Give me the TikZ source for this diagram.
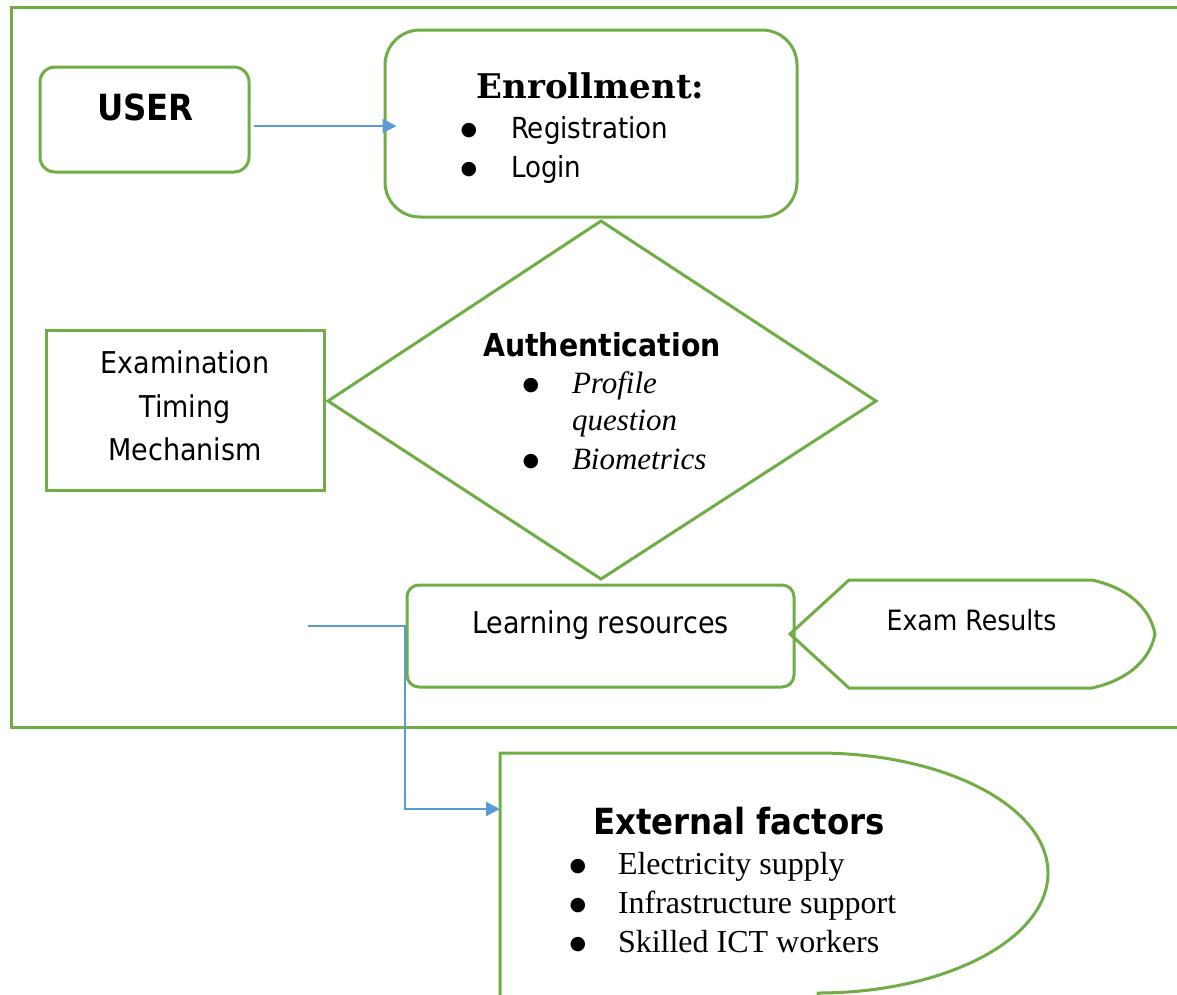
\documentclass[tikz,border=0pt]{standalone}
\usepackage{fontspec}
\usetikzlibrary{arrows.meta}
\newfontfamily\sansR[FakeStretch=0.9]{DejaVu Sans}
\newfontfamily\dejavu{DejaVu Sans}
\newfontfamily\serifD{DejaVu Serif}
\newfontfamily\timesR{Liberation Serif}
\definecolor{grn}{HTML}{70AD47}
\definecolor{blu}{HTML}{5B9BD5}
\tikzset{
  gline/.style={draw=grn, line width=3pt},
  shapebox/.style={gline, fill=none},
  conn/.style={draw=blu, line width=2.4pt, -{Triangle[length=14pt,width=14pt]}},
  txt/.style={inner sep=0pt, outer sep=0pt, text=black},
  bul/.style={txt, anchor=base, font=\dejavu\fontsize{19}{19}\selectfont},
}
\begin{document}
\begin{tikzpicture}[x=1pt, y=-1pt]
\useasboundingbox (0,0) rectangle (1177,994);
% outer frame
\draw[gline] (1185,7) -- (11,7) -- (11,727) -- (1185,727);
% shapes
\node[shapebox, rounded corners=15pt, minimum width=209pt, minimum height=105pt, inner sep=0pt] (user) at (144.5,119.5) {};
\node[shapebox, rounded corners=35pt, minimum width=412pt, minimum height=187pt, inner sep=0pt] (enroll) at (591,123.5) {};
\draw[gline] (601,221) coordinate (dtop) -- (876,401) coordinate (dright) -- (601,579) coordinate (dbottom) -- (328,401) coordinate (dleft) -- cycle;
\node[shapebox, minimum width=278pt, minimum height=160pt, inner sep=0pt] (exam) at (185,410) {};
\node[shapebox, rounded corners=12pt, minimum width=387pt, minimum height=102pt, inner sep=0pt] (learn) at (600.5,636) {};
\draw[gline] (790,634) coordinate (resl) -- (849,580) -- (1092,580)
  .. controls (1128,588) and (1150,608) .. (1155,634)
  .. controls (1150,660) and (1128,680) .. (1092,688) -- (849,688) -- cycle;
\draw[gline] (500,1000) -- (500,753) -- (818,753)
  arc[start angle=90, end angle=-90, x radius=230pt, y radius=120pt] -- (818,1000);
\coordinate (extw) at (500,809);
\coordinate (lstart) at (308,626);
% connectors
\draw[conn] ([shift={(3,6.5)}]user.east) -- ([shift={(13,2.5)}]enroll.west);
\draw[conn] (lstart) -- (405,626) -- (405,809) -- (extw);
% texts
\node[txt, anchor=base, font=\sansR\bfseries\fontsize{36}{36}\selectfont] (tuser) at (145.5,120) {USER};
\node[txt, anchor=base, font=\serifD\bfseries\fontsize{34}{34}\selectfont] (tenroll) at (590.5,98) {Enrollment:};
\node[bul] (b1) at (469,135) {●};
\node[bul] (b2) at (469,174) {●};
\node[txt, anchor=base west, font=\sansR\fontsize{29}{29}\selectfont] (treg) at (511,138) {Registration};
\node[txt, anchor=base west, font=\sansR\fontsize{29}{29}\selectfont] (tlog) at (511,177) {Login};
\node[txt, anchor=base, font=\sansR\bfseries\fontsize{31.5}{31.5}\selectfont] (tauth) at (602,356) {Authentication};
\node[bul] (b3) at (531,390) {●};
\node[bul] (b4) at (531,466) {●};
\node[txt, anchor=base west, font=\timesR\itshape\fontsize{31}{31}\selectfont] (tprof) at (572,393) {Profile};
\node[txt, anchor=base west, font=\timesR\itshape\fontsize{31}{31}\selectfont] (tques) at (572,430) {question};
\node[txt, anchor=base west, font=\timesR\itshape\fontsize{31}{31}\selectfont] (tbio) at (572,469) {Biometrics};
\node[txt, anchor=base, font=\sansR\fontsize{30}{30}\selectfont] (te1) at (185,373) {Examination};
\node[txt, anchor=base, font=\sansR\fontsize{30}{30}\selectfont] (te2) at (185,417) {Timing};
\node[txt, anchor=base, font=\sansR\fontsize{30}{30}\selectfont] (te3) at (185,460) {Mechanism};
\node[txt, anchor=base, font=\sansR\fontsize{30}{30}\selectfont] (tlearn) at (600.5,633) {Learning resources};
\node[txt, anchor=base, font=\sansR\fontsize{28}{28}\selectfont] (tres) at (971.5,630) {Exam Results};
\node[txt, anchor=base, font=\sansR\bfseries\fontsize{36}{36}\selectfont] (text) at (739,834) {External factors};
\node[bul] (b5) at (578,871) {●};
\node[bul] (b6) at (578,910) {●};
\node[bul] (b7) at (578,949) {●};
\node[txt, anchor=base west, font=\timesR\fontsize{32}{32}\selectfont] (tel) at (618,874) {Electricity supply};
\node[txt, anchor=base west, font=\timesR\fontsize{32}{32}\selectfont] (tinf) at (618,913) {Infrastructure support};
\node[txt, anchor=base west, font=\timesR\fontsize{32}{32}\selectfont] (tskl) at (618,952) {Skilled ICT workers};
\end{tikzpicture}
\end{document}
